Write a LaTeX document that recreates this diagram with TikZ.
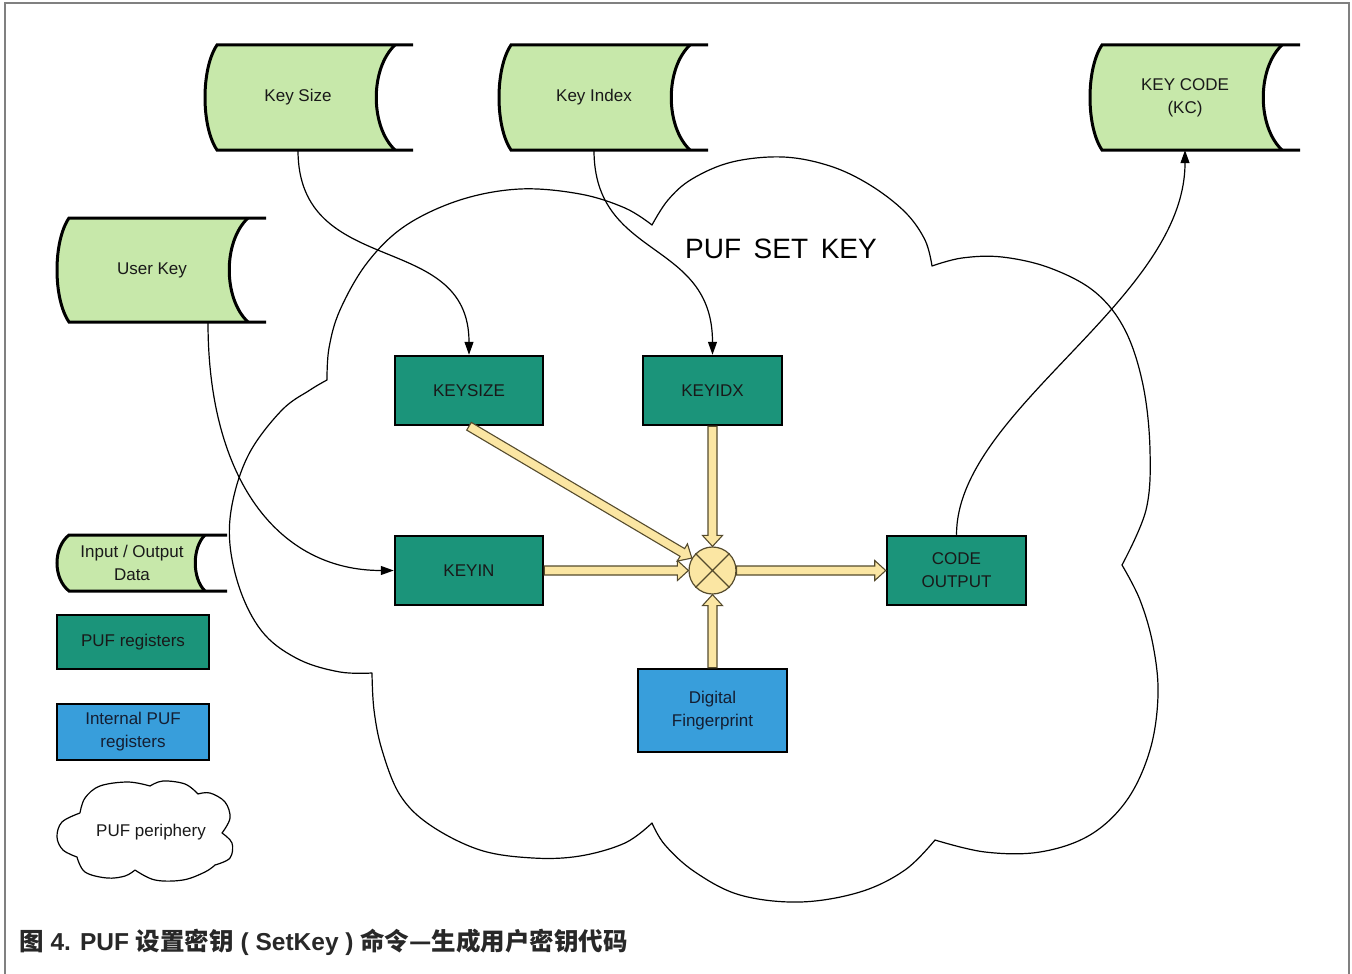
\documentclass[tikz,border=0pt]{standalone}
\usepackage{fontspec}
\setmainfont{Liberation Sans}
\newfontfamily\cjk{Noto Sans CJK SC}
\usetikzlibrary{arrows.meta,calc,backgrounds}

\definecolor{storefill}{RGB}{199,232,170}
\definecolor{regfill}{RGB}{27,148,122}
\definecolor{intfill}{RGB}{56,158,219}
\definecolor{busfill}{RGB}{251,230,163}
\definecolor{busline}{RGB}{85,75,45}
\definecolor{framegray}{RGB}{128,128,128}
\definecolor{captext}{RGB}{40,40,40}
\definecolor{inktext}{RGB}{25,25,25}
\definecolor{navytext}{RGB}{20,30,50}

\tikzset{
  every node/.style={font=\fontsize{17}{23}\selectfont, align=center, inner sep=0pt, text=inktext},
  storeline/.style={draw=black, line width=3pt},
  reg/.style={draw=black, line width=2.5pt, fill=regfill, minimum width=148, minimum height=69},
  intreg/.style={draw=black, line width=2.5pt, fill=intfill, text=navytext, minimum width=149, minimum height=83},
  mixer/.style={circle, draw=busline, line width=1.2pt, fill=busfill, minimum size=47},
  conn/.style={draw=black, line width=1.2pt, -{Triangle[length=13pt,width=9pt]}},
  cloudline/.style={draw=black, line width=1.2pt, line join=round},
  bus/.style={fill=busfill, draw=busline, line width=1.1pt, line join=miter},
}

% Stored-data outline around a node: #1 node, #2 half height, #3 left x,
% #4 right end of the rails, #5 inset of the concave arc, #6 depth of that arc
\newcommand\storeoutline[6]{%
  \begin{scope}[on background layer, shift={(#1.center)}]
    \fill[storefill] (#3+12,-#2) .. controls (#3-4,-0.55*#2) and (#3-4,0.55*#2) .. (#3+12,#2)
      -- (#4-#5,#2) .. controls (#4-#5-#6,0.55*#2) and (#4-#5-#6,-0.55*#2) .. (#4-#5,-#2) -- cycle;
    \draw[storeline] (#4,-#2) -- (#3+12,-#2) .. controls (#3-4,-0.55*#2) and (#3-4,0.55*#2) .. (#3+12,#2) -- (#4,#2);
    \draw[storeline] (#4-#5,-#2) .. controls (#4-#5-#6,-0.55*#2) and (#4-#5-#6,0.55*#2) .. (#4-#5,#2);
  \end{scope}}

% Broad hollow bus arrow from #1 to #2
\newcommand\busarrow[2]{%
  \path[bus] let \p1=(#1), \p2=(#2), \n1={atan2(\y2-\y1,\x2-\x1)}, \n2={veclen(\x2-\x1,\y2-\y1)} in
    ([shift={(\p1)},rotate=\n1]0pt,-4.5pt) -- ([shift={(\p1)},rotate=\n1]\n2-11pt,-4.5pt)
    -- ([shift={(\p1)},rotate=\n1]\n2-11pt,-10pt) -- ([shift={(\p1)},rotate=\n1]\n2,0pt)
    -- ([shift={(\p1)},rotate=\n1]\n2-11pt,10pt) -- ([shift={(\p1)},rotate=\n1]\n2-11pt,4.5pt)
    -- ([shift={(\p1)},rotate=\n1]0pt,4.5pt) -- cycle;}

\begin{document}
\begin{tikzpicture}[x=1pt,y=-1pt]
\useasboundingbox (0,0) rectangle (1352,974);

% PUF periphery cloud
\draw[cloudline]
  plot[smooth,tension=0.6] coordinates {(327,380) (329,348) (340,310) (367,263) (405,226) (460,200) (520,189) (580,194) (625,208) (652,225)}
  -- plot[smooth,tension=0.6] coordinates {(652,225) (668,200) (692,179) (732,162) (783,157) (830,166) (870,185) (905,212) (925,240) (932,266)}
  -- plot[smooth,tension=0.6] coordinates {(932,266) (962,258) (1002,257) (1050,268) (1095,292) (1125,330) (1143,385) (1150,450) (1146,510) (1122,565)}
  -- plot[smooth,tension=0.6] coordinates {(1122,565) (1140,600) (1153,645) (1158,695) (1150,750) (1127,800) (1090,835) (1040,852) (985,852) (935,840)}
  -- plot[smooth,tension=0.6] coordinates {(935,840) (905,870) (860,892) (800,902) (740,895) (695,872) (665,845) (652,823)}
  -- plot[smooth,tension=0.6] coordinates {(652,823) (625,843) (580,856) (533,858) (480,850) (430,825) (400,795) (382,750) (374,710) (372,673)}
  -- plot[smooth,tension=0.6] coordinates {(372,673) (340,672) (300,660) (265,635) (242,595) (230,545) (233,500) (250,452) (282,410) (310,390) (327,380)};
\node[font=\fontsize{28}{32}\selectfont, text=black] (title) at (781,249) {PUF\hspace{0.45em}SET\hspace{0.45em}KEY};

% Stored data
\node[minimum height=105] (ks) at (298,97.5) {Key Size};
\storeoutline{ks}{52.5}{-93}{115}{18}{25}
\node[minimum height=105] (kx) at (594,97.5) {Key Index};
\storeoutline{kx}{52.5}{-95}{114}{18}{25}
\node[minimum height=105] (kc) at (1185,97.5) {KEY CODE\\(KC)};
\storeoutline{kc}{52.5}{-95}{115}{18}{25}
\node[minimum height=104] (uk) at (152,270) {User Key};
\storeoutline{uk}{52}{-95}{114}{18}{25}

% Registers
\node[reg] (ksz) at (469,390.5) {KEYSIZE};
\node[reg, minimum width=139] (kix) at (712.5,390.5) {KEYIDX};
\node[reg] (kin) at (469,570.5) {KEYIN};
\node[reg, minimum width=139] (co) at (956.5,570.5) {CODE\\OUTPUT};
\node[intreg] (fp) at (712.5,710.5) {Digital\\Fingerprint};

% Combiner
\node[mixer] (mix) at (712.5,570.5) {};
\draw[busline, line width=1.2pt] (mix.45) -- (mix.225) (mix.135) -- (mix.315);

\busarrow{ksz.south}{mix.149}
\busarrow{kix.south}{mix.north}
\busarrow{kin.east}{mix.west}
\busarrow{fp.north}{mix.south}
\busarrow{mix.east}{co.west}

% Data connectors
\draw[conn] (ks.south) .. controls +(0,130) and +(0,-126) .. (ksz.north);
\draw[conn] (kx.south) .. controls +(0,110) and +(0,-116) .. (kix.north);
\draw[conn] ([xshift=56pt]uk.south) .. controls +(0,158) and +(-115,0) .. (kin.west);
\draw[conn] (co.north) .. controls +(0,-125) and +(0,150) .. (kc.south);

% Legend
\node[minimum height=56] (lio) at (132,563) {Input / Output\\Data};
\storeoutline{lio}{28}{-75}{95}{22}{13}
\node[reg, minimum width=152, minimum height=54] (lreg) at (133,642) {PUF registers};
\node[intreg, minimum width=152, minimum height=56] (lint) at (133,732) {Internal PUF\\registers};
\node (lcl) at (151,832) {PUF periphery};
\draw[cloudline]
  plot[smooth,tension=0.6] coordinates {(80,813) (62,822) (57,837) (63,850) (77,857)}
  -- plot[smooth,tension=0.6] coordinates {(77,857) (85,872) (107,878) (125,876) (135,870)}
  -- plot[smooth,tension=0.6] coordinates {(135,870) (155,880) (183,880) (205,872) (215,865)}
  -- plot[smooth,tension=0.6] coordinates {(215,865) (230,858) (232,843) (222,833)}
  -- plot[smooth,tension=0.6] coordinates {(222,833) (230,818) (225,802) (210,793) (198,794)}
  -- plot[smooth,tension=0.6] coordinates {(198,794) (185,784) (163,781) (150,786)}
  -- plot[smooth,tension=0.6] coordinates {(150,786) (128,782) (100,786) (85,798) (80,813)};

% Caption
\node[anchor=west, font=\bfseries\fontsize{24.5}{28}\selectfont, text=captext] (cap) at (19,942)
  {{\cjk 图} 4. PUF {\cjk 设置密钥} ( SetKey ) {\cjk 命令—生成用户密钥代码}};

% Frame
\draw[framegray, line width=2pt] (4.5,974) -- (4.5,3.5) -- (1348.5,3.5) -- (1348.5,974);
\end{tikzpicture}
\end{document}
